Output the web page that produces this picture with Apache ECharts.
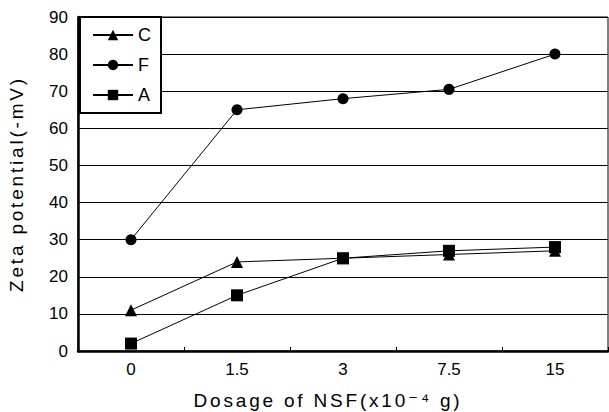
<!DOCTYPE html>
<html><head><meta charset="utf-8">
<script src="https://cdn.jsdelivr.net/npm/echarts@6/dist/echarts.min.js"></script>
<style>
html,body{margin:0;padding:0;background:#fff}
#c{width:609px;height:412px}
#c text[style*="axisname"]{letter-spacing:2.8px}
</style>
</head><body><div id="c"></div>
<script>
const categories = ['0', '1.5', '3', '7.5', '15'];
const seriesC = [11, 24, 25, 26, 27];
const seriesF = [30, 65, 68, 70.5, 80];
const seriesA = [2, 15, 25, 27, 28];
const yTicks = [0, 10, 20, 30, 40, 50, 60, 70, 80, 90];
const xTitle = 'Dosage of NSF(x10\u207B\u2074 g)';
const yTitle = 'Zeta potential(-mV)';

const FONT = '"Liberation Sans", "DejaVu Sans", sans-serif';
const NAMEFONT = 'axisname, "Liberation Sans", "DejaVu Sans", sans-serif';
const chart = echarts.init(document.getElementById('c'), null, {renderer: 'svg'});
const lineStyle = {color: '#000', width: 1};
function mk(name, data, symbol, size) {
  return {
    name, type: 'line', data, symbol, symbolSize: size,
    itemStyle: {color: '#000'}, lineStyle, z: 3,
    emphasis: {disabled: true}
  };
}
chart.setOption({
  animation: false,
  backgroundColor: '#fff',
  grid: {left: 78, right: 1, top: 17, bottom: 61, show: true, borderColor: '#000', borderWidth: 1,
    outerBoundsMode: 'none', containLabel: false},
  legend: {
    orient: 'vertical', left: 80, top: 17,
    padding: [9, 10, 9, 12], itemGap: 12, itemWidth: 40, itemHeight: 13,
    backgroundColor: '#fff', borderColor: '#000', borderWidth: 2,
    textStyle: {fontFamily: FONT, fontSize: 18, color: '#000'},
    itemStyle: {color: '#000'},
    data: ['C', 'F', 'A'], z: 10
  },
  xAxis: {
    type: 'category', data: categories, boundaryGap: true,
    axisLine: {lineStyle: {color: '#000', width: 2.5}},
    axisTick: {show: true, inside: true, length: 4, lineStyle: {color: '#000'}},
    axisLabel: {fontFamily: FONT, fontSize: 17, color: '#000', margin: 10},
    name: xTitle,
    nameLocation: 'middle', nameGap: 40,
    nameTextStyle: {fontFamily: NAMEFONT, fontSize: 19, color: '#000', padding: [0, 30, 0, 0]}
  },
  yAxis: {
    type: 'value', min: yTicks[0], max: yTicks[yTicks.length - 1], interval: 10,
    axisLine: {show: true, lineStyle: {color: '#000', width: 2.5}},
    axisTick: {show: false},
    splitLine: {show: true, lineStyle: {color: '#000', width: 1}},
    axisLabel: {fontFamily: FONT, fontSize: 17, color: '#000', margin: 10},
    name: yTitle, nameLocation: 'middle', nameGap: 52, nameRotate: 90,
    nameTextStyle: {fontFamily: NAMEFONT, fontSize: 19, color: '#000'}
  },
  series: [
    mk('C', seriesC, 'triangle', 12),
    mk('F', seriesF, 'circle', 11),
    mk('A', seriesA, 'rect', 12)
  ]
});
</script></body></html>
